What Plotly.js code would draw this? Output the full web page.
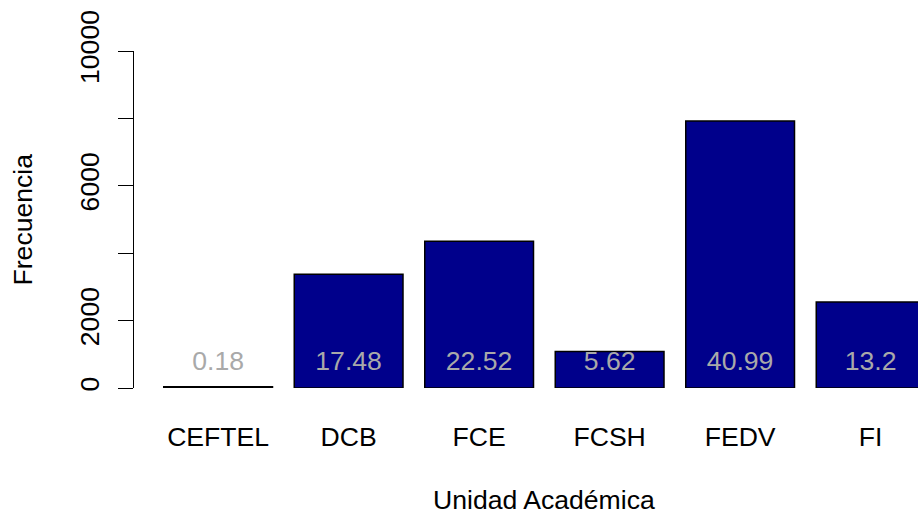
<!DOCTYPE html>
<html>
<head>
<meta charset="utf-8">
<script src="https://cdn.plot.ly/plotly-3.0.1.min.js"></script>
<style>html,body{margin:0;padding:0;background:#fff;}#chart{width:918px;height:516px;}</style>
</head>
<body>
<div id="chart"></div>
<script>
// Data
const categories = ["CEFTEL", "DCB", "FCE", "FCSH", "FEDV", "FI"];
const frequencies = [35, 3379, 4353, 1086, 7923, 2551];
const percentLabels = ["0.18", "17.48", "22.52", "5.62", "40.99", "13.2"];
const yTickValues = [0, 2000, 4000, 6000, 8000, 10000];
const yTickLabels = ["0", "2000", "", "6000", "", "10000"];

const FONT = "Liberation Sans, Arial, Helvetica, sans-serif";
const FS = 26.6;
const LABEL_Y = 740;

const traces = [
  {
    type: "bar",
    x: categories,
    y: frequencies,
    marker: {color: "#00008B", line: {color: "#000000", width: 1.5}},
    hoverinfo: "none",
    showlegend: false
  },
  {
    type: "scatter",
    mode: "text",
    x: categories,
    y: categories.map(() => LABEL_Y),
    text: percentLabels,
    textposition: "middle center",
    textfont: {family: FONT, size: FS, color: "#A9A9A9"},
    cliponaxis: false,
    hoverinfo: "none",
    showlegend: false
  }
];

const plotLeft = 133, plotRight = 918;
const plotW = plotRight - plotLeft;
const xStart = (142 - plotLeft) / plotW;

const layout = {
  width: 918,
  height: 516,
  margin: {l: plotLeft, r: 0, t: 51, b: 128, pad: 0},
  paper_bgcolor: "#ffffff",
  plot_bgcolor: "#ffffff",
  font: {family: FONT, size: FS, color: "#000000"},
  bargap: 1 - 1 / 1.2,
  xaxis: {
    domain: [xStart, 1],
    range: [-0.5833, 5.363],
    type: "category",
    showline: false,
    showgrid: false,
    zeroline: false,
    ticks: "",
    tickfont: {family: FONT, size: FS, color: "#000000"},
    ticklabelstandoff: 30,
    anchor: "y"
  },
  yaxis: {
    range: [0, 10000],
    anchor: "free",
    position: 0,
    showline: true,
    linecolor: "#000000",
    linewidth: 1,
    showgrid: false,
    zeroline: false,
    ticks: "outside",
    ticklen: 15,
    tickwidth: 1,
    tickcolor: "#000000",
    tickmode: "array",
    tickvals: yTickValues,
    ticktext: yTickLabels,
    tickangle: -90,
    tickfont: {family: FONT, size: FS, color: "#000000"},
    ticklabelstandoff: 8
  },
  annotations: [
    {
      text: "Unidad Académica",
      xref: "paper", yref: "paper",
      x: (544 - plotLeft) / plotW, y: -(500 - 388) / (388 - 51),
      xanchor: "center", yanchor: "middle",
      borderpad: 0,
      showarrow: false,
      font: {family: FONT, size: FS, color: "#000000"}
    },
    {
      text: "Frecuencia",
      xref: "paper", yref: "paper",
      x: (22 - plotLeft) / plotW, y: 0.5,
      xanchor: "center", yanchor: "middle",
      textangle: -90,
      showarrow: false,
      font: {family: FONT, size: FS, color: "#000000"}
    }
  ]
};

Plotly.newPlot("chart", traces, layout, {displayModeBar: false, staticPlot: true});
</script>
</body>
</html>
